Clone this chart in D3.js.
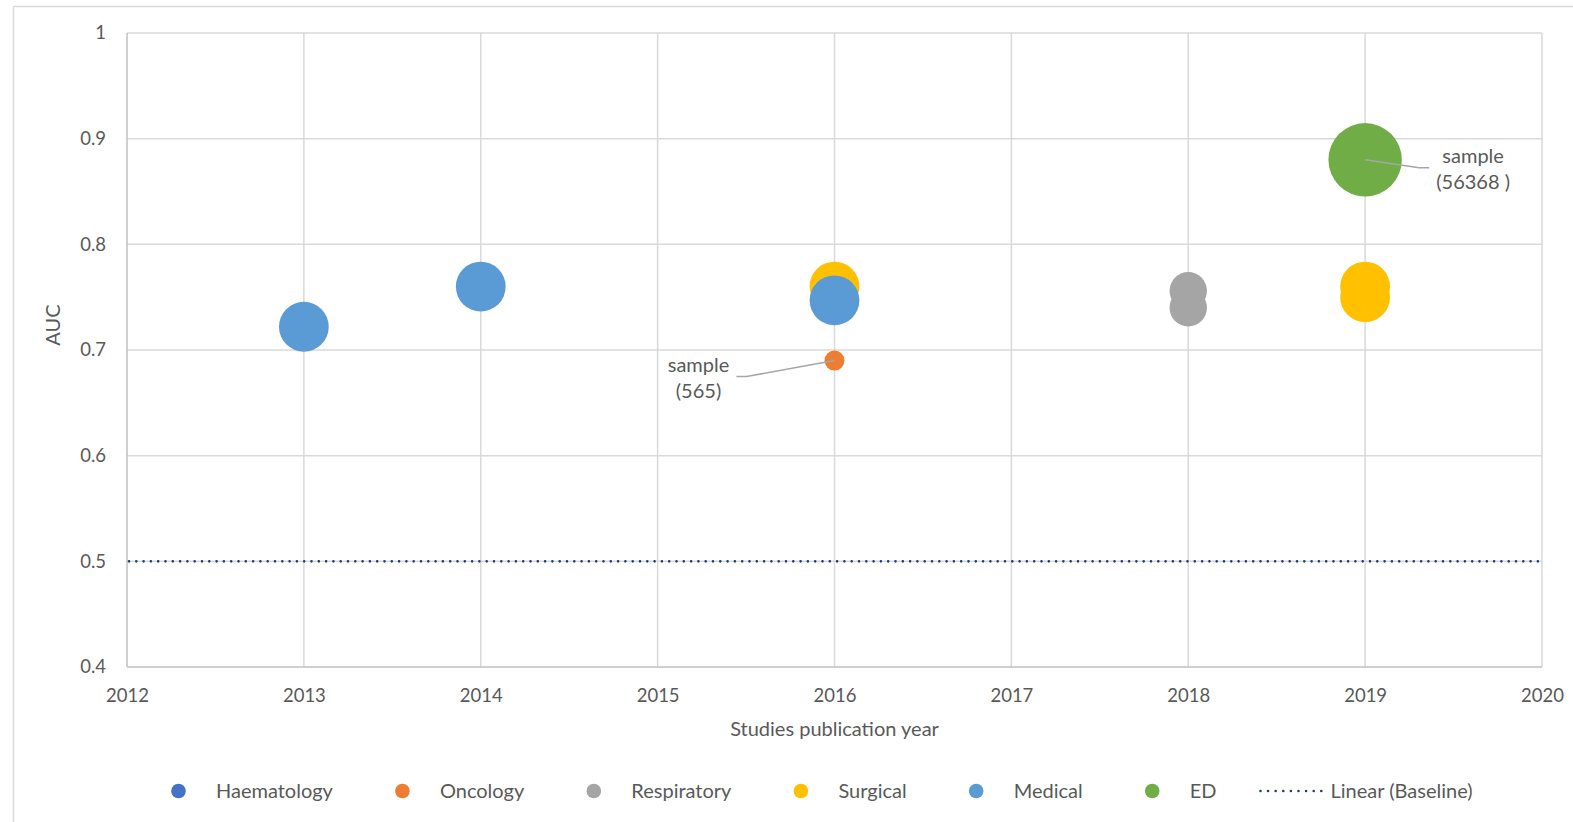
<!DOCTYPE html>
<html><head><meta charset="utf-8">
<script src="https://cdnjs.cloudflare.com/ajax/libs/d3/7.8.5/d3.min.js"></script>
<style>
html,body{margin:0;padding:0;background:#fff;}
svg text{font-family:Lato, "Open Sans", sans-serif;fill:#595959;}
</style></head>
<body>
<svg id="chart" width="1573" height="822"></svg>
<script>
// ---- data ----
const seriesNames = ["Haematology","Oncology","Respiratory","Surgical","Medical","ED"];
const seriesColors = ["#4472C4","#ED7D31","#A5A5A5","#FFC000","#5B9BD5","#70AD47"];
const years  = [2013, 2014, 2016, 2016, 2016, 2018, 2018, 2019, 2019, 2019];
const aucs   = [0.722, 0.760, 0.760, 0.747, 0.690, 0.756, 0.740, 0.760, 0.750, 0.880];
const groups = ["Medical","Medical","Surgical","Medical","Oncology","Respiratory","Respiratory","Surgical","Surgical","ED"];
const bubbleSize = [46, 46, 46, 46, 7.4, 26, 26, 46, 46, 100];
const xTicks = [2012,2013,2014,2015,2016,2017,2018,2019,2020];
const yTicks = [0.4,0.5,0.6,0.7,0.8,0.9,1];
const baselineValue = 0.5;
const labels = [{i:4, lines:["sample","(565)"]},{i:9, lines:["sample","(56368 )"]}];

// ---- layout ----
const svg = d3.select("#chart");
const L = 127, R = 1542, T = 33, B = 667;
const FS = 20, TFS = 18.5;
const x = d3.scaleLinear().domain([2012,2020]).range([L,R]);
const y = d3.scaleLinear().domain([0.4,1]).range([B,T]);
const r = d3.scaleSqrt().domain([0,100]).range([0,36.7]);
const color = d3.scaleOrdinal().domain(seriesNames).range(seriesColors);

// outer chart border
svg.append("path").attr("d","M13.5,830 V6.5 H1580").attr("fill","none").attr("stroke","#d9d9d9").attr("stroke-width",1.5);

// gridlines
svg.append("g").selectAll("line").data(yTicks.slice(1)).join("line")
  .attr("x1",L).attr("x2",R).attr("y1",d=>y(d)).attr("y2",d=>y(d))
  .attr("stroke","#d9d9d9").attr("stroke-width",1.5);
svg.append("g").selectAll("line").data(xTicks.slice(1)).join("line")
  .attr("x1",d=>x(d)).attr("x2",d=>x(d)).attr("y1",T).attr("y2",B)
  .attr("stroke","#d9d9d9").attr("stroke-width",1.5);
// axes lines
svg.append("line").attr("x1",L).attr("x2",L).attr("y1",T).attr("y2",B).attr("stroke","#bfbfbf").attr("stroke-width",1.5);
svg.append("line").attr("x1",L).attr("x2",R).attr("y1",B).attr("y2",B).attr("stroke","#bfbfbf").attr("stroke-width",1.5);

// axes via d3
const yAxis = svg.append("g").attr("transform",`translate(${L},0)`)
  .call(d3.axisLeft(y).tickValues(yTicks).tickFormat(d=>d3.format("")(+d.toFixed(1))).tickSize(0).tickPadding(21));
const xAxis = svg.append("g").attr("transform",`translate(0,${B})`)
  .call(d3.axisBottom(x).tickValues(xTicks).tickFormat(d3.format("d")).tickSize(0).tickPadding(22));
[yAxis,xAxis].forEach(a=>{a.select(".domain").remove(); a.selectAll("text").attr("font-size",TFS).attr("fill","#595959").attr("font-family","Lato");});

// titles
svg.append("text").attr("x",(L+R)/2).attr("y",736).attr("text-anchor","middle").attr("font-size",FS).text("Studies publication year");
svg.append("text").attr("transform","translate(60,325) rotate(-90)").attr("text-anchor","middle").attr("font-size",FS).text("AUC");

// baseline trend
svg.append("line").attr("x1",L+2).attr("x2",R).attr("y1",y(baselineValue)).attr("y2",y(baselineValue))
  .attr("stroke","#1F3D74").attr("stroke-width",2.6).attr("stroke-linecap","round").attr("stroke-dasharray","0 7.3");

// bubbles, drawn in series order
const pts = years.map((yr,i)=>({yr, auc:aucs[i], g:groups[i], s:bubbleSize[i], i}));
pts.sort((a,b)=>seriesNames.indexOf(a.g)-seriesNames.indexOf(b.g));
svg.append("g").selectAll("circle").data(pts).join("circle")
  .attr("cx",d=>x(d.yr)).attr("cy",d=>y(d.auc)).attr("r",d=>r(d.s)).attr("fill",d=>color(d.g));

// data labels with leader lines
const lab = svg.append("g");
{
  const i = labels[0].i, cx = x(years[i]), cy = y(aucs[i]);
  lab.append("polyline").attr("points",`${cx},${cy} ${cx-88},${cy+16} ${cx-98},${cy+16}`).attr("fill","none").attr("stroke","#a6a6a6").attr("stroke-width",1.5);
  labels[0].lines.forEach((t,k)=>lab.append("text").attr("x",cx-136).attr("y",cy+11+k*26).attr("text-anchor","middle").attr("font-size",FS).text(t));
}
{
  const i = labels[1].i, cx = x(years[i]), cy = y(aucs[i]);
  lab.append("polyline").attr("points",`${cx},${cy} ${cx+54},${cy+8} ${cx+64},${cy+8}`).attr("fill","none").attr("stroke","#a6a6a6").attr("stroke-width",1.5);
  labels[1].lines.forEach((t,k)=>lab.append("text").attr("x",cx+108).attr("y",cy+3+k*26).attr("text-anchor","middle").attr("font-size",FS).text(t));
}

// legend
const legItems = seriesNames.map((n,i)=>({name:n, type:"dot", col:seriesColors[i]}));
legItems.push({name:"Linear (Baseline)", type:"line", col:"#1F3D74"});
const leg = svg.append("g");
let lx = 171;
const ly = 791;
legItems.forEach(it=>{
  const g = leg.append("g");
  let textX;
  if(it.type==="dot"){
    g.append("circle").attr("cx",lx+7.5).attr("cy",ly).attr("r",7.3).attr("fill",it.col);
    textX = lx+45;
  } else {
    g.append("line").attr("x1",lx-18).attr("x2",lx+43).attr("y1",ly).attr("y2",ly).attr("stroke",it.col)
      .attr("stroke-width",2.6).attr("stroke-linecap","round").attr("stroke-dasharray","0 7.6");
    textX = lx+52;
  }
  const t = g.append("text").attr("x",textX).attr("y",ly+7).attr("font-size",FS).text(it.name);
  lx = textX + t.node().getComputedTextLength() + 62;
});
</script>
</body></html>
